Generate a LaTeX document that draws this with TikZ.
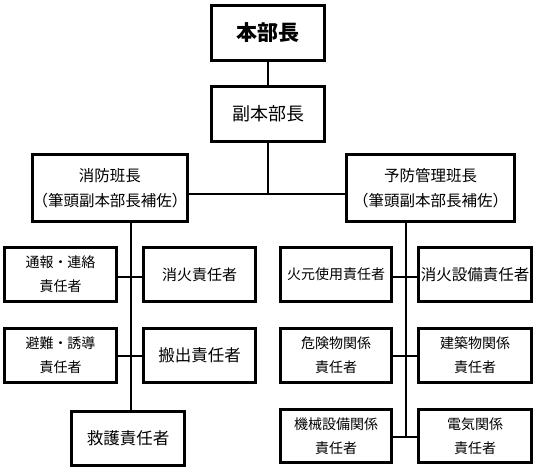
\documentclass[tikz,border=0pt]{standalone}
\usepackage{fontspec}
\setmainfont{Noto Sans CJK JP}
\begin{document}
\begin{tikzpicture}[x=1pt,y=-1pt,
  box/.style={draw, line width=3pt, inner sep=0pt, align=center},
  small/.style={box, minimum width=112pt, minimum height=54pt, font=\fontsize{14}{24}\selectfont},
  conn/.style={line width=2.3pt}]
\useasboundingbox (0,0) rectangle (536,472);
% top
\node[box, minimum width=113pt, minimum height=55pt, font=\fontsize{21}{25}\selectfont\bfseries] (hq) at (268,33) {本部長};
\node[box, minimum width=113pt, minimum height=55pt, font=\fontsize{18}{22}\selectfont] (vice) at (268,114) {副本部長};
\node[box, minimum width=151pt, minimum height=67pt, font=\fontsize{15.5}{25}\selectfont] (fire) at (110,188) {消防班長\\（筆頭副本部長補佐）};
\node[box, minimum width=168pt, minimum height=67pt, font=\fontsize{15.5}{25}\selectfont] (prev) at (430.5,188) {予防管理班長\\（筆頭副本部長補佐）};
% left group
\node[small] (tsuho) at (60.5,274.5) {通報・連絡\\責任者};
\node[small, font=\fontsize{15}{24}\selectfont] (shoka) at (199.5,274.5) {消火責任者};
\node[small] (hinan) at (60.5,355.5) {避難・誘導\\責任者};
\node[small, font=\fontsize{16.5}{24}\selectfont] (hanshutsu) at (199.5,355.5) {搬出責任者};
\node[small, minimum width=113pt, font=\fontsize{16.5}{24}\selectfont] (kyugo) at (128,438.5) {救護責任者};
% right group
\node[small, minimum width=111pt] (himoto) at (336,274.5) {火元使用責任者};
\node[small, minimum width=113pt, font=\fontsize{15.5}{24}\selectfont] (setsubi) at (475,274.5) {消火設備責任者};
\node[small, minimum width=111pt] (kiken) at (336,355.5) {危険物関係\\責任者};
\node[small, minimum width=113pt] (kenchiku) at (475,355.5) {建築物関係\\責任者};
\node[small, minimum width=111pt, minimum height=53pt] (kikai) at (336,436) {機械設備関係\\責任者};
\node[small, minimum width=113pt, minimum height=53pt] (denki) at (475,436) {電気関係\\責任者};
% junction coordinates
\coordinate (hb) at (268,194);
\coordinate (lt) at (131,223);
\coordinate (lb) at (131,410);
\coordinate (l1) at (131,277);
\coordinate (l2) at (131,356);
\coordinate (rt) at (406,223);
\coordinate (rb) at (406,437);
\coordinate (r1) at (406,277);
\coordinate (r2) at (406,356);
% connectors
\draw[conn] (hq) -- (vice);
\draw[conn] (vice) -- (hb);
\draw[conn] (fire.east |- hb) -- (prev.west |- hb);
\draw[conn] (lt) -- (lb);
\draw[conn] (tsuho.east |- l1) -- (shoka.west |- l1);
\draw[conn] (hinan.east |- l2) -- (hanshutsu.west |- l2);
\draw[conn] (rt) -- (rb);
\draw[conn] (himoto.east |- r1) -- (setsubi.west |- r1);
\draw[conn] (kiken.east |- r2) -- (kenchiku.west |- r2);
\draw[conn] (kikai.east |- rb) -- (denki.west |- rb);
\end{tikzpicture}
\end{document}
